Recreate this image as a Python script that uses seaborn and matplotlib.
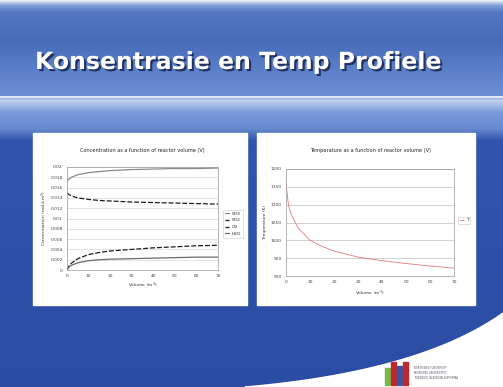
import numpy as np
import pandas as pd
import matplotlib
matplotlib.use("Agg")
import matplotlib.pyplot as plt
import matplotlib.patheffects as pe
from matplotlib.patches import Rectangle, Polygon
import seaborn as sns

W, H = 503, 387

# --- data ---
volume = [0, 1, 2, 5, 10, 15, 20, 30, 40, 50, 60, 70]
conc_so3 = [0.0172, 0.0177, 0.0180, 0.0185, 0.0189, 0.0191, 0.0193, 0.0195, 0.0196, 0.0197, 0.0197, 0.0198]
conc_so2 = [0.0150, 0.0146, 0.0144, 0.0140, 0.0137, 0.0135, 0.0134, 0.0132, 0.0131, 0.0130, 0.0129, 0.0128]
conc_o2 = [0.0, 0.0008, 0.0013, 0.0022, 0.0030, 0.0034, 0.0037, 0.0040, 0.0043, 0.0045, 0.0047, 0.0048]
conc_h2o = [0.0, 0.0006, 0.0009, 0.0014, 0.0018, 0.0020, 0.0021, 0.0022, 0.0023, 0.0024, 0.0025, 0.0025]
temperature = [1160, 1100, 1075, 1035, 1000, 983, 970, 953, 943, 935, 928, 922]

species = ["SO3", "SO2", "O2", "H2O"]
conc_ticks = [0, 0.002, 0.004, 0.006, 0.008, 0.01, 0.012, 0.014, 0.016, 0.018, 0.02]
temp_ticks = [900, 950, 1000, 1050, 1100, 1150, 1200]
vol_ticks = [0, 10, 20, 30, 40, 50, 60, 70]

sns.set_style("white")
plt.rcParams["font.family"] = ["DejaVu Sans"]


def box(x0, y0, x1, y1):
    return [x0 / W, 1 - y1 / H, (x1 - x0) / W, (y1 - y0) / H]


fig = plt.figure(figsize=(W / 100, H / 100), dpi=100)

# slide background
bg = fig.add_axes([0, 0, 1, 1])
bg.set_xlim(0, W)
bg.set_ylim(H, 0)
bg.axis("off")
rows = np.arange(H)
stops_y = [0, 5, 12, 40, 70, 95, 100, 112, 128, 140, 387]
stops_r = [0.92, 0.50, 0.33, 0.28, 0.36, 0.43, 0.75, 0.48, 0.40, 0.20, 0.17]
stops_g = [0.94, 0.62, 0.47, 0.42, 0.50, 0.56, 0.82, 0.60, 0.54, 0.33, 0.30]
stops_b = [0.98, 0.84, 0.76, 0.72, 0.79, 0.83, 0.93, 0.85, 0.81, 0.68, 0.64]
grad = np.stack([np.interp(rows, stops_y, c) for c in (stops_r, stops_g, stops_b)], axis=1)
img = np.repeat(grad[:, None, :], W, axis=1)
bg.imshow(img, extent=[0, W, H, 0], aspect="auto", zorder=0)
bg.plot([0, W], [97, 97], color="white", lw=1.2, alpha=0.9, zorder=1)

# white curved corner at bottom right
t = np.linspace(0, 1, 60)
cx = (1 - t) ** 2 * 245 + 2 * (1 - t) * t * 420 + t ** 2 * 503
cy = (1 - t) ** 2 * 387 + 2 * (1 - t) * t * 372 + t ** 2 * 313
corner = np.column_stack([np.r_[cx, 503], np.r_[cy, 387]])
bg.add_patch(Polygon(corner, closed=True, color="white", zorder=1))

# logo
bg.add_patch(Rectangle((385, 368), 5, 17, color="#7ab648", zorder=2))
bg.add_patch(Rectangle((391, 362), 5, 23, color="#c0282d", zorder=2))
bg.add_patch(Rectangle((397, 366), 5, 19, color="#3a56a5", zorder=2))
bg.add_patch(Rectangle((403, 362), 5, 23, color="#c0282d", zorder=2))
bg.text(414, 366, "NORTH-WEST UNIVERSITY\nNOORDWES-UNIVERSITEIT\nYUNIBESITI YA BOKONE-BOPHIRIMA",
        fontsize=1.8, color="#556", va="top", linespacing=1.3, zorder=2)

# title
bg.text(35, 62, "Konsentrasie en Temp Profiele", fontsize=17, fontweight="bold",
        color="white", va="center", ha="left", zorder=3,
        path_effects=[pe.withSimplePatchShadow(offset=(1.5, -1.5), shadow_rgbFace="#1b2a55", alpha=0.9)])

# chart panels
bg.add_patch(Rectangle((33, 133), 214, 172, color="white", zorder=2))
bg.add_patch(Rectangle((257, 133), 218, 172, color="white", zorder=2))

small = 3.2

# concentration chart
conc = pd.DataFrame({"Volume": volume * 4,
                     "Conc": conc_so3 + conc_so2 + conc_o2 + conc_h2o,
                     "Species": sum([[s] * len(volume) for s in species], [])})
ax1 = fig.add_axes(box(67, 167, 218, 270))
sns.lineplot(data=conc, x="Volume", y="Conc", hue="Species", style="Species",
             palette=["#8a8a8a", "#1e1e1e", "#1e1e1e", "#6a6a6a"],
             dashes=[(None, None), (4, 1.5), (4, 1.5), (None, None)],
             linewidth=0.9, ax=ax1)
ax1.set_xlim(0, 70)
ax1.set_ylim(0, 0.02)
ax1.set_xticks(vol_ticks)
ax1.set_yticks(conc_ticks)
ax1.set_yticklabels(["%g" % v for v in conc_ticks])
ax1.yaxis.grid(True, color="#d8d8d8", lw=0.5)
ax1.tick_params(labelsize=small, length=1.5, width=0.4, pad=1.5, colors="#444")
ax1.set_xlabel("Volume (m$^3$)", fontsize=small, labelpad=2, color="#333")
ax1.set_ylabel("Concentration (mol/cm$^3$)", fontsize=small, labelpad=1, color="#333")
ax1.set_title("Concentration as a function of reactor volume (V)", fontsize=3.6, pad=11, color="#222")
for s in ax1.spines.values():
    s.set_color("#999")
    s.set_linewidth(0.5)
leg1 = ax1.legend(loc="center left", bbox_to_anchor=(1.02, 0.45), fontsize=small, frameon=True,
                  handlelength=1.0, borderpad=0.4, labelspacing=0.6, handletextpad=0.5)
leg1.get_frame().set_edgecolor("#bbb")
leg1.get_frame().set_linewidth(0.4)

# temperature chart
temp = pd.DataFrame({"Volume": volume, "T": temperature})
ax2 = fig.add_axes(box(286, 169, 454, 276))
sns.lineplot(data=temp, x="Volume", y="T", color="#e07b7b", linewidth=0.6, label="T", ax=ax2)
ax2.set_xlim(0, 70)
ax2.set_ylim(900, 1200)
ax2.set_xticks(vol_ticks)
ax2.set_yticks(temp_ticks)
ax2.yaxis.grid(True, color="#bdbdbd", lw=0.5)
ax2.tick_params(labelsize=small, length=1.5, width=0.4, pad=1.5, colors="#444")
ax2.set_xlabel("Volume (m$^3$)", fontsize=small, labelpad=3, color="#333")
ax2.set_ylabel("Temperature (K)", fontsize=small, labelpad=3, color="#333")
ax2.set_title("Temperature as a function of reactor volume (V)", fontsize=3.6, pad=12, color="#222")
for s in ax2.spines.values():
    s.set_color("#999")
    s.set_linewidth(0.5)
leg2 = ax2.legend(loc="center left", bbox_to_anchor=(1.01, 0.52), fontsize=small, frameon=True,
                  handlelength=1.0, borderpad=0.4, handletextpad=0.4)
leg2.get_frame().set_edgecolor("#bbb")
leg2.get_frame().set_linewidth(0.4)

fig.savefig("out.png", dpi=100)
